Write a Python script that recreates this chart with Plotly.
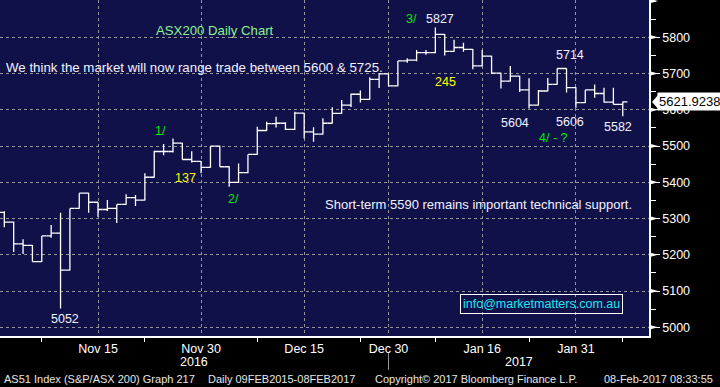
import plotly.graph_objects as go

# ---------------- data ----------------
dates = ["2016-11-01","2016-11-02","2016-11-03","2016-11-04","2016-11-07","2016-11-08","2016-11-09",
         "2016-11-10","2016-11-11","2016-11-14","2016-11-15","2016-11-16","2016-11-17","2016-11-18",
         "2016-11-21","2016-11-22","2016-11-23","2016-11-24","2016-11-25","2016-11-28","2016-11-29",
         "2016-11-30","2016-12-01","2016-12-02","2016-12-05","2016-12-06","2016-12-07","2016-12-08",
         "2016-12-09","2016-12-12","2016-12-13","2016-12-14","2016-12-15","2016-12-16","2016-12-19",
         "2016-12-20","2016-12-21","2016-12-22","2016-12-23","2016-12-28","2016-12-29","2016-12-30",
         "2017-01-03","2017-01-04","2017-01-05","2017-01-06","2017-01-09","2017-01-10","2017-01-11",
         "2017-01-12","2017-01-13","2017-01-16","2017-01-17","2017-01-18","2017-01-19","2017-01-20",
         "2017-01-23","2017-01-24","2017-01-25","2017-01-27","2017-01-30","2017-01-31","2017-02-01",
         "2017-02-02","2017-02-03","2017-02-06","2017-02-07"]

opens = [5317,5290,5230,5226,5181,5252,5260,5158,5328,5370,5345,5325,5328,5339,5358,5351,5414,5485,
         5485,5508,5463,5458,5441,5500,5443,5400,5427,5477,5543,5562,5563,5546,5591,5539,5533,5563,
         5590,5613,5643,5629,5684,5699,5666,5735,5737,5758,5758,5808,5761,5772,5767,5721,5748,5701,
         5679,5693,5655,5613,5652,5670,5714,5661,5620,5655,5645,5621,5615]
highs = [5320,5292,5243,5227,5252,5282,5316,5328,5370,5371,5346,5351,5339,5367,5365,5425,5487,5506,
         5521,5509,5486,5459,5500,5501,5444,5452,5477,5553,5567,5581,5566,5595,5592,5552,5577,5607,
         5627,5645,5653,5690,5699,5700,5735,5742,5765,5765,5827,5809,5793,5785,5768,5765,5749,5702,
         5721,5694,5687,5655,5688,5714,5715,5662,5655,5670,5661,5661,5623]
lows = [5276,5208,5202,5181,5180,5247,5052,5157,5327,5316,5305,5321,5288,5338,5335,5350,5413,5475,
        5482,5463,5455,5425,5440,5443,5388,5398,5425,5476,5542,5551,5544,5544,5521,5512,5532,5562,
        5589,5608,5620,5628,5660,5665,5665,5730,5734,5752,5756,5750,5760,5760,5712,5720,5699,5659,
        5678,5649,5604,5612,5651,5669,5648,5606,5619,5633,5620,5615,5582]
closes = [5290,5230,5226,5181,5252,5260,5158,5328,5370,5345,5325,5328,5339,5358,5351,5414,5485,5485,
          5508,5463,5458,5441,5500,5443,5400,5427,5477,5543,5562,5563,5546,5591,5539,5533,5563,5590,
          5613,5643,5629,5684,5699,5666,5735,5737,5758,5758,5808,5761,5772,5767,5721,5748,5701,5679,
          5693,5655,5613,5652,5670,5714,5661,5620,5655,5645,5621,5615,5621.9238]

major_dates = ["2016-11-15","2016-11-30","2016-12-15","2016-12-30","2017-01-16","2017-01-31"]
major_labels = ["Nov 15","Nov 30","Dec 15","Dec 30","Jan 16","Jan 31"]
minor_dates = ["2016-11-07","2016-11-22","2016-12-08","2016-12-23","2017-01-09","2017-01-23","2017-02-07"]
y_ticks = [5000,5100,5200,5300,5400,5500,5600,5700,5800]
last_price = 5621.9238

# ---------------- figure ----------------
pos = list(range(len(dates)))
idx = {d: i for i, d in enumerate(dates)}

NAVY = "#11114a"
GRID = "rgb(150,150,150)"
FONT = "Liberation Sans, Arial, sans-serif"

fig = go.Figure()
fig.add_trace(go.Ohlc(
    x=pos, open=opens, high=highs, low=lows, close=closes,
    increasing=dict(line=dict(color="white", width=1.3)),
    decreasing=dict(line=dict(color="white", width=1.3)),
    tickwidth=0.5, hoverinfo="skip", showlegend=False,
))

fig.update_layout(
    width=720, height=387,
    margin=dict(l=0, r=71, t=0, b=51),
    paper_bgcolor="black", plot_bgcolor=NAVY,
    font=dict(family=FONT, color="white", size=12),
    showlegend=False,
)

fig.update_xaxes(
    range=[-0.46, 68.8], rangeslider=dict(visible=False),
    tickmode="array", tickvals=[idx[d] for d in major_dates], ticktext=major_labels,
    ticks="", showgrid=True, gridcolor=GRID, griddash="dot", gridwidth=1,
    showline=True, linecolor="white", linewidth=1.5, zeroline=False,
    tickfont=dict(size=12.5, color="white"),
    minor=dict(tickmode="array", tickvals=[idx[d] for d in minor_dates], ticks="outside",
               ticklen=4, tickcolor="white", tickwidth=1, showgrid=False),
    fixedrange=True,
)
fig.update_yaxes(
    side="right", range=[4976, 5903],
    tickmode="array", tickvals=y_ticks, ticktext=[str(v) for v in y_ticks],
    ticks="outside", ticklen=9, tickcolor="white", tickwidth=1,
    showgrid=True, gridcolor=GRID, griddash="dot", gridwidth=1,
    showline=True, linecolor="white", linewidth=1.5, zeroline=False,
    tickfont=dict(size=12.5, color="white"),
    minor=dict(dtick=50, tick0=5000, ticks="outside", ticklen=5, tickcolor="white", showgrid=False),
    fixedrange=True,
)

shapes = []
# arrow heads on the right axis ticks
dx = 9 / 649
for v in y_ticks + [5900]:
    shapes.append(dict(type="path", xref="paper", yref="y",
                       path=f"M 1,{v+7} L {1+dx},{v} L 1,{v-7} Z",
                       fillcolor="white", line=dict(width=0), layer="above"))
# pointer for last price label
shapes.append(dict(type="path", xref="paper", yref="y",
                   path=f"M {1+3/649},{last_price} L {1+9/649},{last_price+19} L {1+9/649},{last_price-19} Z",
                   fillcolor="white", line=dict(width=0), layer="above"))
# year separator under Dec 30
shapes.append(dict(type="line", xref="x", yref="paper", x0=idx["2016-12-30"], x1=idx["2016-12-30"],
                   y0=-0.051, y1=-0.101, line=dict(color="rgb(150,150,150)", width=1)))
fig.update_layout(shapes=shapes)

GREEN = "#00e600"
YELLOW = "#ffff00"
WHITE = "#f2f2ff"

def note(text, x, y, color=WHITE, size=12.5, anchor="center", **kw):
    d = dict(text=text, x=x, y=y, xref="x", yref="y", showarrow=False,
             xanchor=anchor, yanchor="middle", font=dict(size=size, color=color, family=FONT))
    d.update(kw)
    return d

annotations = [
    note("ASX200 Daily Chart", 16.0, 5820, color="#8cf08c", size=13.2, anchor="left"),
    note("We think the market will now range trade between 5600 &amp; 5725.", -0.03, 5718, size=13.3, anchor="left"),
    note("Short-term 5590 remains important technical support.", 34.0, 5340, size=13, anchor="left"),
    note("1/", 16.7, 5541, color=GREEN),
    note("137", 19.3, 5412, color=YELLOW),
    note("2/", 24.5, 5354, color=GREEN),
    note("3/", 43.5, 5850, color=GREEN),
    note("5827", 46.5, 5850),
    note("245", 47.1, 5678, color=YELLOW),
    note("5714", 60.4, 5751),
    note("5604", 54.5, 5563),
    note("5606", 60.4, 5566),
    note("5582", 65.5, 5552),
    note("4/ - ?", 58.6, 5522, color=GREEN),
    note("5052", 6.5, 5023),
    note("info@marketmatters.com.au", 57.3, 5065, color="#22e5ee", size=12.5,
         bordercolor="white", borderwidth=1, borderpad=2),
    # last price label on the axis
    dict(text="5621.9238", x=1, y=last_price, xref="paper", yref="y", xanchor="left", yanchor="middle",
         xshift=8, showarrow=False, bgcolor="white", borderpad=1,
         font=dict(size=13, color="black", family=FONT)),
    # year labels
    dict(text="2016", x=20.2, y=-0.078, xref="x", yref="paper", showarrow=False,
         xanchor="center", yanchor="middle", font=dict(size=12.5, color="white", family=FONT)),
    dict(text="2017", x=54.9, y=-0.078, xref="x", yref="paper", showarrow=False,
         xanchor="center", yanchor="middle", font=dict(size=12.5, color="white", family=FONT)),
]
footer = [("AS51 Index (S&amp;P/ASX 200) Graph 217", 2),
          ("Daily 09FEB2015-08FEB2017", 206),
          ("Copyright© 2017 Bloomberg Finance L.P.", 373),
          ("08-Feb-2017 08:33:55", 602)]
for text, px in footer:
    annotations.append(dict(text=text, x=px / 649, y=-43 / 336, xref="paper", yref="paper",
                            xanchor="left", yanchor="middle", showarrow=False,
                            font=dict(size=11, color="#e6e6e6", family=FONT)))
fig.update_layout(annotations=annotations)

fig.write_html("out.html", config={"displayModeBar": False},
               post_script="document.body.style.margin='0';document.body.style.overflow='hidden';")
